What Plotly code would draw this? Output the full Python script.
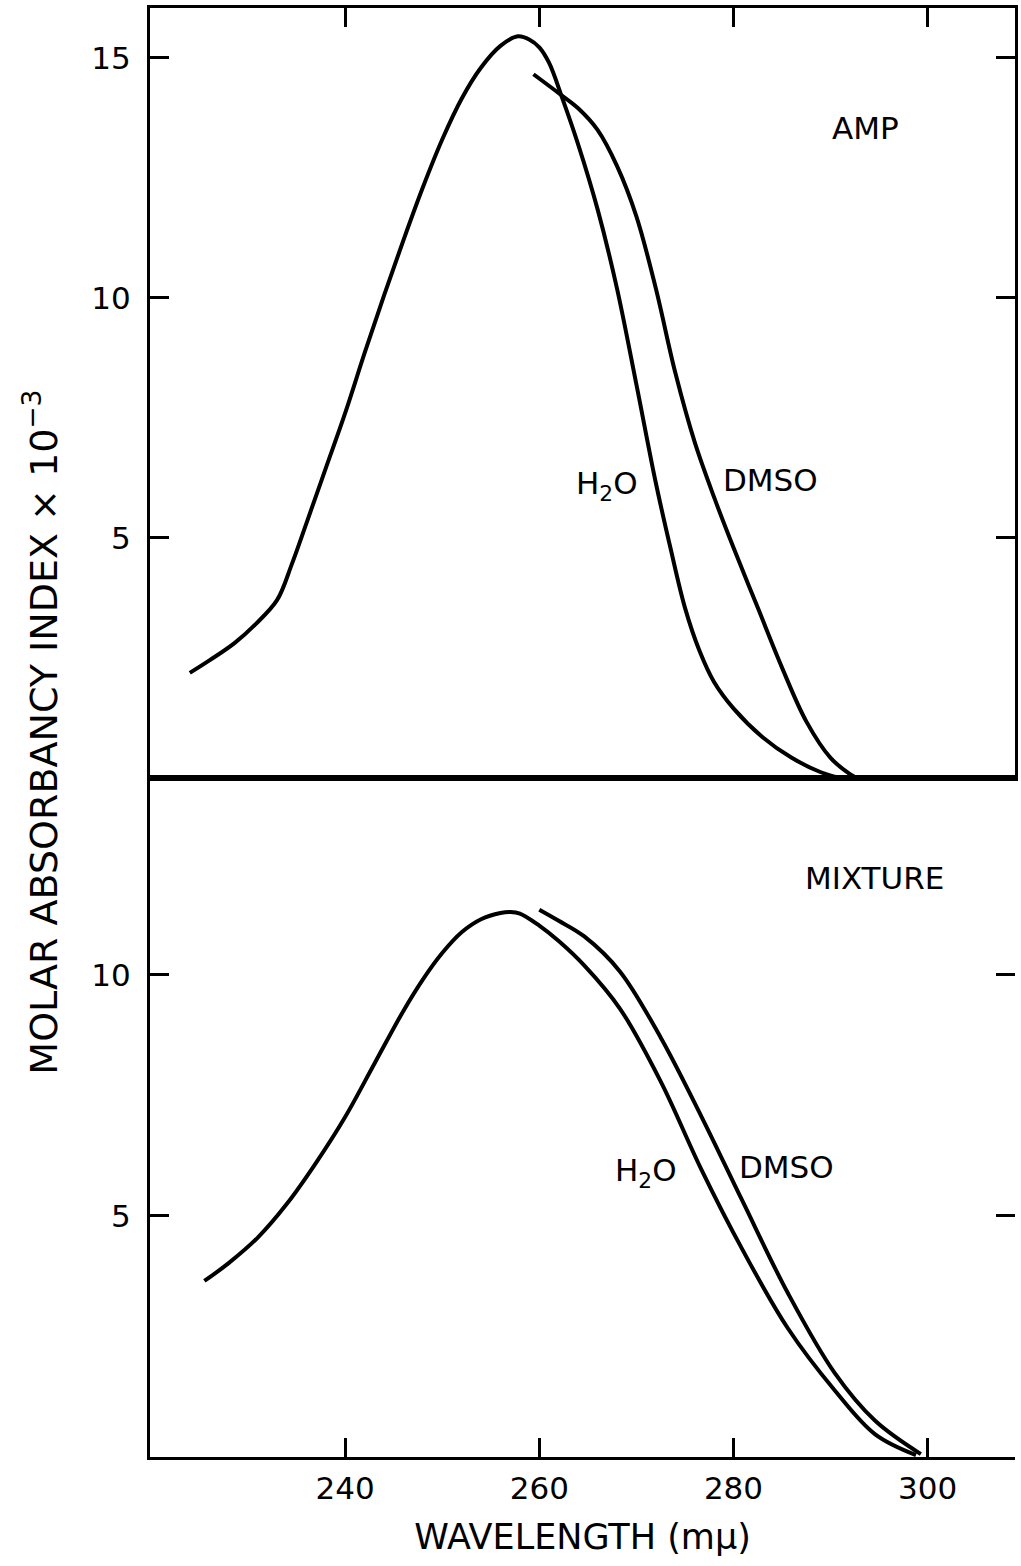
import plotly.graph_objects as go

# AMP absorption spectra (molar absorbancy index x 10^-3 vs wavelength, m\u03bc)
amp_h2o_wl = [224.0, 226.1, 228.6, 230.7, 233.0, 234.5, 236.0, 238.0, 240.0, 242.0,
              244.0, 246.0, 248.0, 250.0, 252.0, 254.0, 256.0, 257.8, 259.0, 260.0,
              261.0, 262.3, 264.0, 266.0, 268.0, 270.0, 272.0, 273.5, 275.0, 276.5,
              278.0, 280.0, 283.0, 286.0, 289.0, 291.0]
amp_h2o_abs = [2.19, 2.46, 2.81, 3.19, 3.71, 4.45, 5.30, 6.45, 7.60, 8.85,
               10.05, 11.20, 12.30, 13.30, 14.15, 14.80, 15.25, 15.45, 15.38, 15.22,
               14.90, 14.20, 13.20, 11.85, 10.20, 8.20, 6.15, 4.80, 3.55, 2.65,
               2.00, 1.45, 0.85, 0.42, 0.12, 0.0]

amp_dmso_wl = [259.4, 262.3, 264.0, 266.0, 268.0, 270.0, 272.0, 274.0, 276.0, 278.0,
               280.0, 282.5, 285.0, 287.5, 290.0, 292.0, 292.7]
amp_dmso_abs = [14.66, 14.22, 13.95, 13.50, 12.75, 11.70, 10.20, 8.45, 7.00, 5.85,
                4.80, 3.55, 2.30, 1.18, 0.42, 0.08, 0.0]

# Mixture spectra
mix_h2o_wl = [225.5, 228.0, 231.0, 234.0, 237.0, 240.0, 243.0, 246.0, 248.0, 250.0,
              252.0, 254.0, 256.0, 257.0, 258.0, 260.0, 262.0, 264.6, 268.3, 272.5,
              276.7, 280.9, 285.6, 290.4, 294.6, 298.8]
mix_h2o_abs = [3.65, 4.02, 4.55, 5.25, 6.10, 7.05, 8.15, 9.25, 9.90, 10.45,
               10.88, 11.15, 11.28, 11.30, 11.27, 11.02, 10.70, 10.20, 9.30, 7.79,
               5.96, 4.31, 2.67, 1.39, 0.47, 0.04]

mix_dmso_wl = [260.0, 262.0, 264.6, 268.3, 272.5, 276.7, 280.9, 285.6, 290.4, 294.6, 299.3]
mix_dmso_abs = [11.35, 11.12, 10.80, 10.07, 8.70, 7.06, 5.32, 3.40, 1.75, 0.75, 0.06]

wl_ticks = [240, 260, 280, 300]
top_ticks = [5, 10, 15]
bottom_ticks = [5, 10]

FONT = "DejaVu Sans"
INK = "black"
LW = 4

fig = go.Figure()

def curve(x, y, xa, ya):
    return go.Scatter(x=x, y=y, mode="lines", xaxis=xa, yaxis=ya,
                      line=dict(color=INK, width=LW, shape="spline", smoothing=1.0),
                      hoverinfo="skip", showlegend=False)

fig.add_trace(curve(amp_h2o_wl, amp_h2o_abs, "x2", "y2"))
fig.add_trace(curve(amp_dmso_wl, amp_dmso_abs, "x2", "y2"))
fig.add_trace(curve(mix_h2o_wl, mix_h2o_abs, "x", "y"))
fig.add_trace(curve(mix_dmso_wl, mix_dmso_abs, "x", "y"))
# carrier for the right-hand tick axis of the lower panel
fig.add_trace(go.Scatter(x=mix_dmso_wl, y=mix_dmso_abs, mode="lines", xaxis="x", yaxis="y3",
                         line=dict(width=0), opacity=0, hoverinfo="skip", showlegend=False))

split = 0.4686
xr = [219.9, 309.0]
axis_common = dict(showgrid=False, zeroline=False, showline=True, linecolor=INK, linewidth=3,
                   ticks="inside", ticklen=19, tickwidth=3, tickcolor=INK,
                   tickfont=dict(family=FONT, size=31, color=INK))

fig.update_layout(
    width=1021, height=1566,
    margin=dict(l=150, r=3, t=8, b=109),
    paper_bgcolor="white", plot_bgcolor="white",
    xaxis=dict(axis_common, domain=[0, 1], range=xr, anchor="y", tickvals=wl_ticks,
               mirror=True, ticklabelstandoff=2,
               title=dict(text="WAVELENGTH (m\u03bc)", font=dict(family=FONT, size=35, color=INK),
                          standoff=20)),
    xaxis2=dict(axis_common, domain=[0, 1], range=xr, anchor="y2", side="top",
                tickvals=wl_ticks, showticklabels=False, mirror=True, matches="x"),
    yaxis=dict(axis_common, domain=[0, split], range=[0, 14.08], anchor="x",
               tickvals=bottom_ticks, ticklabelstandoff=10),
    yaxis3=dict(axis_common, range=[0, 14.08], overlaying="y", side="right", anchor="x",
                showline=False, tickvals=bottom_ticks, showticklabels=False),
    yaxis2=dict(axis_common, domain=[split, 1], range=[0, 16.04], anchor="x2",
                tickvals=top_ticks, mirror="ticks", ticklabelstandoff=10),
)

label_font = dict(family=FONT, size=31, color=INK)
annotations = [
    dict(text="AMP", x=293.6, y=13.54, xref="x2", yref="y2"),
    dict(text="H<sub>2</sub>O", x=267.0, y=6.1, xref="x2", yref="y2"),
    dict(text="DMSO", x=283.8, y=6.2, xref="x2", yref="y2"),
    dict(text="MIXTURE", x=294.5, y=12.0, xref="x", yref="y"),
    dict(text="H<sub>2</sub>O", x=271.0, y=5.9, xref="x", yref="y"),
    dict(text="DMSO", x=285.5, y=6.02, xref="x", yref="y"),
]
for a in annotations:
    fig.add_annotation(showarrow=False, font=label_font, **a)

fig.add_annotation(text="MOLAR ABSORBANCY INDEX \u00d7 10<sup>\u22123</sup>",
                   x=-0.127, y=0.5, xref="paper", yref="paper", textangle=-90,
                   xanchor="center", yanchor="middle",
                   showarrow=False, font=dict(family=FONT, size=38, color=INK))

fig.write_html("out.html")
